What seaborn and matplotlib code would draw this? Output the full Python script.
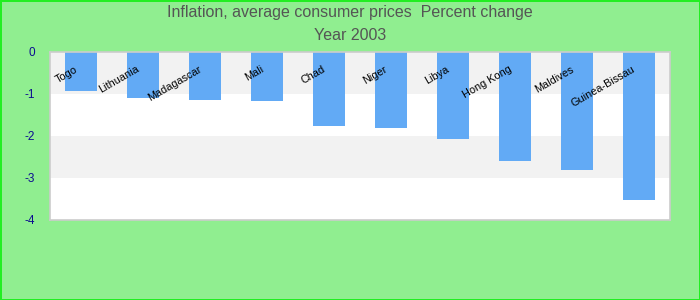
import matplotlib
matplotlib.use("Agg")
import matplotlib.pyplot as plt
import seaborn as sns
import pandas as pd

countries = ["Togo", "Lithuania", "Madagascar", "Mali", "Chad", "Niger",
             "Libya", "Hong Kong", "Maldives", "Guinea-Bissau"]
values = [-0.93, -1.10, -1.15, -1.17, -1.77, -1.81, -2.08, -2.60, -2.82, -3.53]
yticks = [0, -1, -2, -3, -4]
title_line1 = "Inflation, average consumer prices  Percent change"
title_line2 = "Year 2003"

plt.rcParams['font.family'] = ['Liberation Sans', 'DejaVu Sans']

df = pd.DataFrame({"country": countries, "value": values})

fig = plt.figure(figsize=(7, 3), dpi=100, facecolor="#90ee90")
fig.set_edgecolor("#22ee22")
fig.set_linewidth(2)
ax = fig.add_axes([50 / 700, 1 - 220 / 300, 620 / 700, 168 / 300])
ax.set_facecolor("white")

# alternating bands
for k in range(len(yticks) - 1):
    if k % 2 == 0:
        ax.axhspan(yticks[k + 1], yticks[k], color="#f2f2f2", zorder=0, lw=0)

sns.barplot(data=df, x="country", y="value", color="#62aaf5", saturation=1,
            width=0.516, ax=ax, zorder=2)

ax.set_xlim(-0.5, len(countries) - 0.5)
ax.set_ylim(-4, 0)
ax.set_yticks(yticks)
ax.set_yticklabels([str(t) for t in yticks])
ax.tick_params(axis="y", length=0, pad=11, labelsize=8.5, labelcolor="#0c0c90")
ax.set_xticks([])
ax.set_xlabel("")
ax.set_ylabel("")
for s in ax.spines.values():
    s.set_color("#cccccc")
    s.set_linewidth(1.2)

for i, name in enumerate(countries):
    ax.text(i - 0.11, -0.29, name, rotation=30, rotation_mode="anchor",
            ha="right", va="top", fontsize=7.8, color="black", zorder=3)

fig.text(0.5, 1 - 12 / 300, title_line1, ha="center", va="center",
         fontsize=11.5, color="#555555")
fig.text(0.5, 1 - 35 / 300, title_line2, ha="center", va="center",
         fontsize=11.5, color="#555555")

fig.savefig("out.png", dpi=100)
